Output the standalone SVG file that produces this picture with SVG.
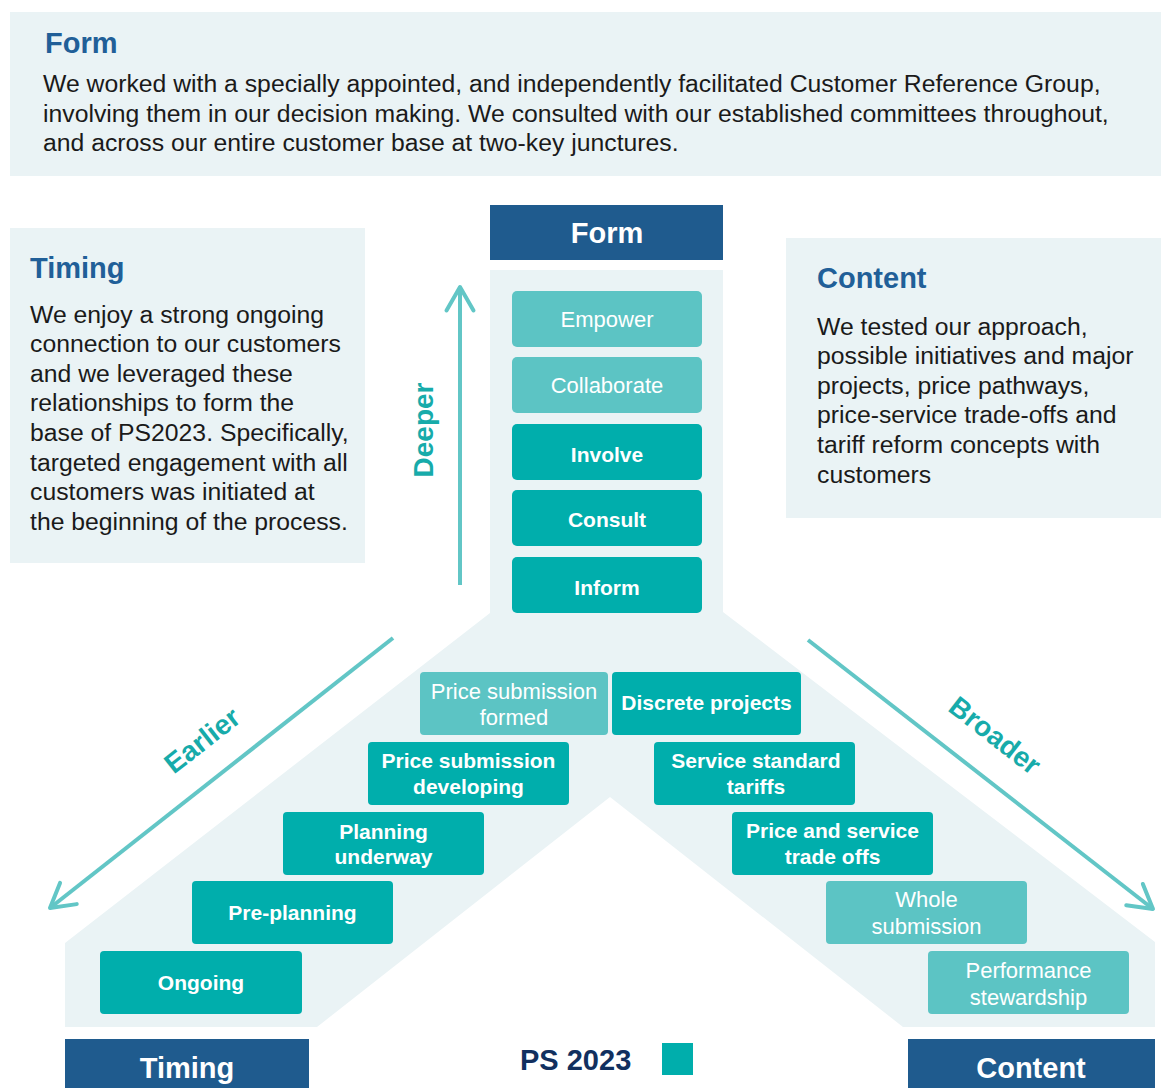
<svg xmlns="http://www.w3.org/2000/svg" width="1161" height="1088" viewBox="0 0 1161 1088">
  <style>
    .panel { fill: #eaf3f5; }
    .head { font-family: "Liberation Sans", Arial, sans-serif; font-weight: bold; font-size: 29px; fill: #215f98; }
    .body { font-family: "Liberation Sans", Arial, sans-serif; font-size: 24.75px; fill: #1a1a1a; }
    .bar { fill: #1f5b8e; }
    .bartext { font-family: "Liberation Sans", Arial, sans-serif; font-weight: bold; font-size: 29px; fill: #ffffff; text-anchor: middle; }
    .dark { fill: #00aeac; }
    .light { fill: #5cc4c4; }
    .lb { font-family: "Liberation Sans", Arial, sans-serif; font-weight: bold; font-size: 21px; fill: #ffffff; text-anchor: middle; }
    .lr { font-family: "Liberation Sans", Arial, sans-serif; font-size: 22px; fill: #ffffff; text-anchor: middle; }
    .axis { stroke: #62c6c6; stroke-width: 4; fill: none; marker-end: url(#chev); }
    .axistext { font-family: "Liberation Sans", Arial, sans-serif; font-weight: bold; font-size: 28px; fill: #17abaa; text-anchor: middle; }
  </style>
  <defs>
    <marker id="chev" viewBox="-30 -20 36 40" refX="0" refY="0" markerWidth="36" markerHeight="40" markerUnits="userSpaceOnUse" orient="auto">
      <path d="M -23.4,-13.5 L 0,0 L -23.4,13.5" fill="none" stroke="#62c6c6" stroke-width="4" stroke-linejoin="round" stroke-linecap="round"/>
    </marker>
  </defs>

  <rect width="1161" height="1088" fill="#ffffff"/>

  <!-- top summary panel -->
  <g id="form-summary">
    <rect class="panel" x="10" y="12" width="1151" height="164"/>
    <text class="head" x="45" y="53">Form</text>
    <text class="body" x="43" y="92">We worked with a specially appointed, and independently facilitated Customer Reference Group,</text>
    <text class="body" x="43" y="122">involving them in our decision making. We consulted with our established committees throughout,</text>
    <text class="body" x="43" y="151">and across our entire customer base at two-key junctures.</text>
  </g>

  <!-- side notes -->
  <g id="timing-note">
    <rect class="panel" x="10" y="228" width="355" height="335"/>
    <text class="head" x="30" y="278">Timing</text>
    <text class="body" x="30" y="323">We enjoy a strong ongoing</text>
    <text class="body" x="30" y="352">connection to our customers</text>
    <text class="body" x="30" y="382">and we leveraged these</text>
    <text class="body" x="30" y="411">relationships to form the</text>
    <text class="body" x="30" y="441">base of PS2023. Specifically,</text>
    <text class="body" x="30" y="471">targeted engagement with all</text>
    <text class="body" x="30" y="500">customers was initiated at</text>
    <text class="body" x="30" y="530">the beginning of the process.</text>
  </g>

  <g id="content-note">
    <rect class="panel" x="786" y="238" width="375" height="280"/>
    <text class="head" x="817" y="288">Content</text>
    <text class="body" x="817" y="335">We tested our approach,</text>
    <text class="body" x="817" y="364">possible initiatives and major</text>
    <text class="body" x="817" y="394">projects, price pathways,</text>
    <text class="body" x="817" y="423">price-service trade-offs and</text>
    <text class="body" x="817" y="453">tariff reform concepts with</text>
    <text class="body" x="817" y="483">customers</text>
  </g>

  <!-- Y-shaped backdrop -->
  <g id="backdrop">
    <polygon class="panel" points="490,270 723,270 723,612 1155,942 1155,1027 903,1027 610,797 317,1027 65,1027 65,943 490,613"/>
  </g>

  <!-- axis headers -->
  <g id="form-header">
    <rect class="bar" x="490" y="205" width="233" height="55"/>
    <text class="bartext" x="607" y="243">Form</text>
  </g>
  <g id="timing-header">
    <rect class="bar" x="65" y="1039" width="244" height="49"/>
    <text class="bartext" x="187" y="1078">Timing</text>
  </g>
  <g id="content-header">
    <rect class="bar" x="908" y="1039" width="247" height="49"/>
    <text class="bartext" x="1031" y="1078">Content</text>
  </g>

  <!-- form ladder -->
  <g id="empower">
    <rect class="light" x="512" y="291" width="190" height="56" rx="5"/>
    <text class="lr" x="607" y="327">Empower</text>
  </g>
  <g id="collaborate">
    <rect class="light" x="512" y="357" width="190" height="56" rx="5"/>
    <text class="lr" x="607" y="393">Collaborate</text>
  </g>
  <g id="involve">
    <rect class="dark" x="512" y="424" width="190" height="56" rx="5"/>
    <text class="lb" x="607" y="462">Involve</text>
  </g>
  <g id="consult">
    <rect class="dark" x="512" y="490" width="190" height="56" rx="5"/>
    <text class="lb" x="607" y="527">Consult</text>
  </g>
  <g id="inform">
    <rect class="dark" x="512" y="557" width="190" height="56" rx="5"/>
    <text class="lb" x="607" y="595">Inform</text>
  </g>

  <!-- timing ladder -->
  <g id="price-submission-formed">
    <rect class="light" x="420" y="672" width="188" height="63" rx="4"/>
    <text class="lr" x="514" y="699">Price submission</text>
    <text class="lr" x="514" y="725">formed</text>
  </g>
  <g id="price-submission-developing">
    <rect class="dark" x="368" y="742" width="201" height="63" rx="4"/>
    <text class="lb" x="468.5" y="768">Price submission</text>
    <text class="lb" x="468.5" y="794">developing</text>
  </g>
  <g id="planning-underway">
    <rect class="dark" x="283" y="812" width="201" height="63" rx="4"/>
    <text class="lb" x="383.5" y="839">Planning</text>
    <text class="lb" x="383.5" y="864">underway</text>
  </g>
  <g id="pre-planning">
    <rect class="dark" x="192" y="881" width="201" height="63" rx="4"/>
    <text class="lb" x="292.5" y="920">Pre-planning</text>
  </g>
  <g id="ongoing">
    <rect class="dark" x="100" y="951" width="202" height="63" rx="4"/>
    <text class="lb" x="201" y="990">Ongoing</text>
  </g>

  <!-- content ladder -->
  <g id="discrete-projects">
    <rect class="dark" x="612" y="672" width="189" height="63" rx="4"/>
    <text class="lb" x="706.5" y="710">Discrete projects</text>
  </g>
  <g id="service-standard-tariffs">
    <rect class="dark" x="654" y="742" width="201" height="63" rx="4"/>
    <text class="lb" x="756" y="768">Service standard</text>
    <text class="lb" x="756" y="794">tariffs</text>
  </g>
  <g id="price-service-trade-offs">
    <rect class="dark" x="732" y="812" width="201" height="63" rx="4"/>
    <text class="lb" x="832.5" y="838">Price and service</text>
    <text class="lb" x="832.5" y="864">trade offs</text>
  </g>
  <g id="whole-submission">
    <rect class="light" x="826" y="881" width="201" height="63" rx="4"/>
    <text class="lr" x="926.5" y="907">Whole</text>
    <text class="lr" x="926.5" y="934">submission</text>
  </g>
  <g id="performance-stewardship">
    <rect class="light" x="928" y="951" width="201" height="63" rx="4"/>
    <text class="lr" x="1028.5" y="978">Performance</text>
    <text class="lr" x="1028.5" y="1005">stewardship</text>
  </g>

  <!-- legend -->
  <g id="legend">
    <text x="520" y="1070" font-family="Liberation Sans, Arial, sans-serif" font-weight="bold" font-size="29" fill="#12305f">PS 2023</text>
    <rect class="dark" x="662" y="1043" width="31" height="32"/>
  </g>

  <!-- direction arrows -->
  <g id="connectors">
    <line class="axis" x1="460" y1="585" x2="460" y2="287"/>
    <line class="axis" x1="393" y1="638" x2="50" y2="908"/>
    <line class="axis" x1="808" y1="640" x2="1153" y2="909"/>
    <text class="axistext" transform="translate(433,430) rotate(-90)">Deeper</text>
    <text class="axistext" transform="translate(208,748) rotate(-38)">Earlier</text>
    <text class="axistext" transform="translate(989,743) rotate(38)">Broader</text>
  </g>
</svg>
